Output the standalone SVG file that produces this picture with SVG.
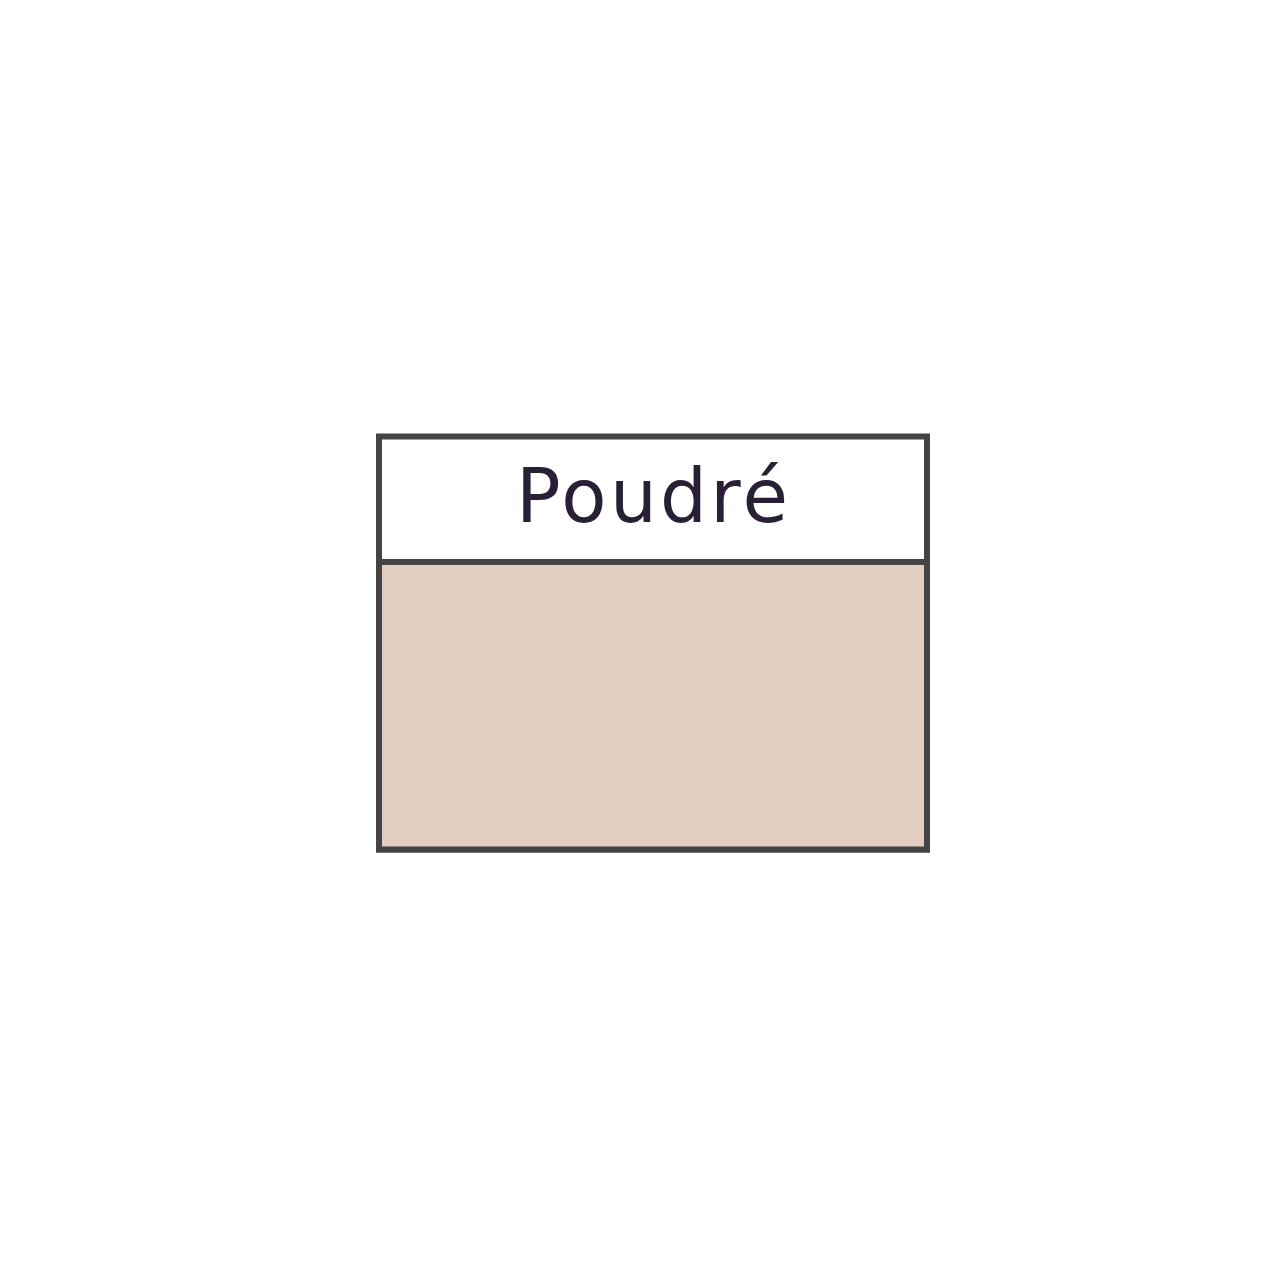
<svg xmlns="http://www.w3.org/2000/svg" width="1280" height="1280" viewBox="0 0 1280 1280">
<style>
.box{stroke:#444;stroke-width:6}
.t{font-family:"DejaVu Sans","Noto Sans",sans-serif;font-size:74px;fill:#2a2035;text-anchor:middle}
</style>
<rect width="1280" height="1280" fill="#fff"/>
<g id="poudre">
<rect class="box" x="379" y="436.5" width="548" height="413" fill="#fff"/>
<rect class="box" x="379" y="562" width="548" height="287.5" fill="#e2cfc1"/>
<text class="t" x="652" y="522" textLength="272" lengthAdjust="spacing">Poudré</text>
</g>
<g id="connectors"/>
</svg>
